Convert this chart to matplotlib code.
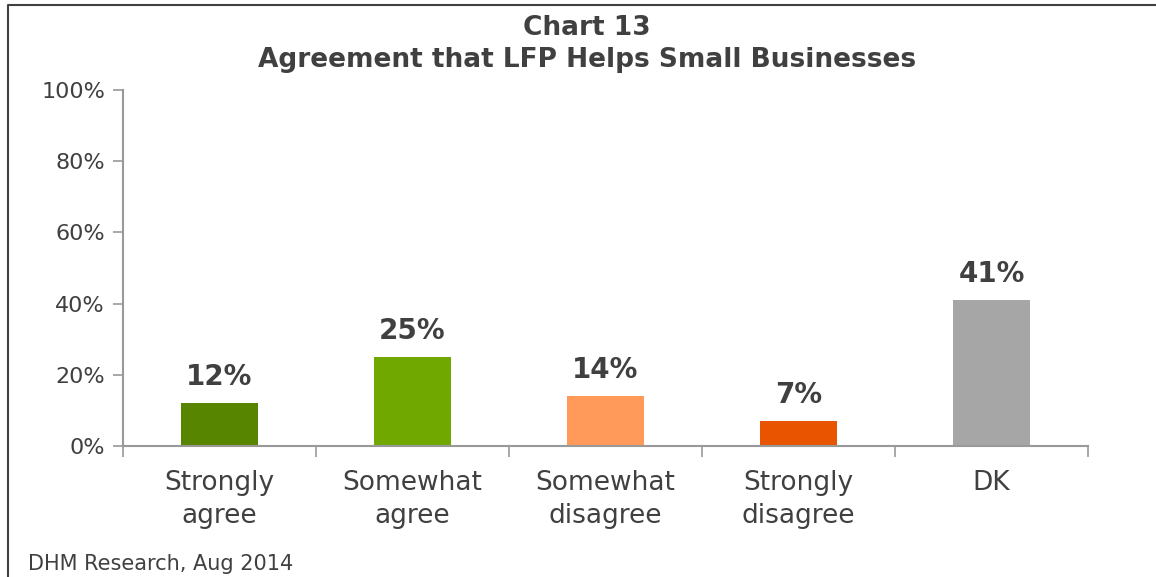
import numpy as np
import matplotlib.pyplot as plt
from matplotlib.lines import Line2D

plt.rcParams['font.family'] = ['DejaVu Sans']

# Chart 13 data
categories = ['Strongly\nagree', 'Somewhat\nagree', 'Somewhat\ndisagree', 'Strongly\ndisagree', 'DK']
values = [12, 25, 14, 7, 41]
colors = ['#588500', '#70a800', '#ff9a5a', '#e85400', '#a6a6a6']
yticks = [0, 20, 40, 60, 80, 100]

text_col = '#404040'
axis_col = '#999999'

fig = plt.figure(figsize=(11.56, 5.77), dpi=100)
ax = fig.add_axes([0.1064, 0.227, 0.8348, 0.617])

x = np.arange(len(categories))
ax.bar(x, values, width=0.4, color=colors)
for xi, v in zip(x, values):
    ax.text(xi, v + 3.4, f'{v}%', ha='center', va='bottom', fontsize=20,
            fontweight='bold', color=text_col)

ax.set_xlim(-0.5, len(categories) - 0.5)
ax.set_ylim(0, 100)
ax.set_yticks(yticks)
ax.set_yticklabels([f'{t}%' for t in yticks], fontsize=16, color=text_col)
ax.set_xticks(x)
ax.set_xticklabels(categories, fontsize=19, color=text_col, linespacing=1.35)
ax.tick_params(axis='x', length=0, pad=17)
ax.tick_params(axis='y', length=7, width=1.2, color=axis_col, pad=6)
# category boundary ticks
ax.set_xticks(np.arange(-0.5, len(categories)), minor=True)
ax.tick_params(axis='x', which='minor', length=8, width=1.2, color=axis_col)

for s in ['top', 'right']:
    ax.spines[s].set_visible(False)
for s in ['left', 'bottom']:
    ax.spines[s].set_color(axis_col)
    ax.spines[s].set_linewidth(1.5)

fig.text(0.508, 0.951, 'Chart 13', ha='center', va='center', fontsize=19,
         fontweight='bold', color=text_col)
fig.text(0.508, 0.896, 'Agreement that LFP Helps Small Businesses', ha='center',
         va='center', fontsize=19, fontweight='bold', color=text_col)
fig.text(0.024, 0.022, 'DHM Research, Aug 2014', ha='left', va='center',
         fontsize=15, color=text_col)

# outer frame (left and top)
fig.add_artist(Line2D([0.007, 0.007, 1.0], [0.0, 0.991, 0.991],
                      transform=fig.transFigure, color='#404040', lw=1.5))

fig.savefig('out.png', dpi=100)
